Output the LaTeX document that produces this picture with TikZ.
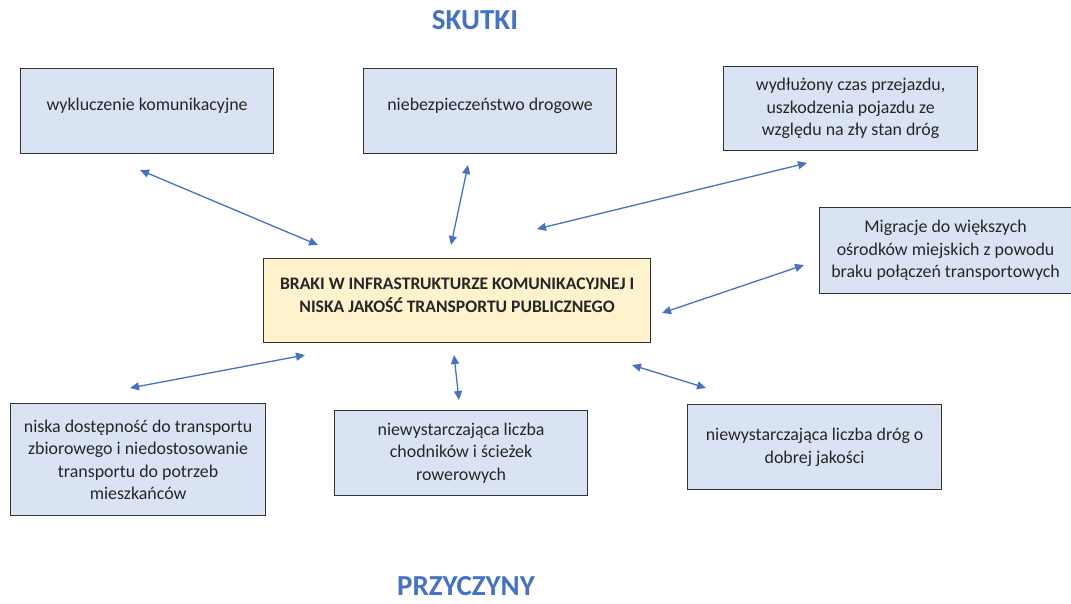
\documentclass[tikz,border=0pt]{standalone}
\usepackage{fontspec}
\setmainfont{Carlito}
\usetikzlibrary{arrows.meta}
\definecolor{hdblue}{HTML}{4472C4}
\definecolor{boxblue}{HTML}{DAE3F3}
\definecolor{boxyellow}{HTML}{FFF2CC}
\definecolor{boxline}{HTML}{333333}
\definecolor{txt}{HTML}{262626}
\tikzset{
  box/.style={draw=boxline, line width=1.2pt, fill=boxblue, anchor=north west,
    inner sep=0pt, align=center, text=txt, font=\fontsize{17.9}{22.5}\selectfont},
  mainbox/.style={box, fill=boxyellow, font=\bfseries\fontsize{17.6}{23}\selectfont},
  heading/.style={text=hdblue, font=\bfseries\fontsize{29}{34}\selectfont},
  link/.style={draw=hdblue, line width=1.3pt,
    {Triangle[width=8pt,length=9pt]}-{Triangle[width=8pt,length=9pt]}}
}
\begin{document}
\begin{tikzpicture}[x=1pt,y=-1pt]
\useasboundingbox (0,0) rectangle (1071,603);
\node[heading] (skutki) at (475,20) {SKUTKI};
\node[heading] (przyczyny) at (466,586) {PRZYCZYNY};

\node[box, minimum width=253pt, minimum height=85pt] (s1) at (20,68) {wykluczenie komunikacyjne\\[-9pt]};
\node[box, minimum width=253pt, minimum height=85pt] (s2) at (363,68) {niebezpieczeństwo drogowe\\[-9pt]};
\node[box, minimum width=254pt, minimum height=84pt] (s3) at (723,66) {wydłużony czas przejazdu,\\uszkodzenia pojazdu ze\\względu na zły stan dróg};
\node[box, minimum width=252pt, minimum height=86pt] (s4) at (819,207) {Migracje do większych\\ośrodków miejskich z powodu\\braku połączeń transportowych};

\node[mainbox, minimum width=387pt, minimum height=84pt] (c) at (263,258) {BRAKI W INFRASTRUKTURZE KOMUNIKACYJNEJ I\\NISKA JAKOŚĆ TRANSPORTU PUBLICZNEGO\\[-13pt]};

\node[box, minimum width=255pt, minimum height=112pt] (p1) at (10,403) {niska dostępność do transportu\\zbiorowego i niedostosowanie\\transportu do potrzeb\\mieszkańców};
\node[box, minimum width=253pt, minimum height=85pt] (p2) at (334,410) {niewystarczająca liczba\\chodników i ścieżek\\rowerowych};
\node[box, minimum width=254pt, minimum height=85pt] (p3) at (687,404) {niewystarczająca liczba dróg o\\dobrej jakości};

\coordinate (a1s) at (140,170); \coordinate (a1e) at (318,245);
\coordinate (a2s) at (468,165); \coordinate (a2e) at (451,245);
\coordinate (a3s) at (807,163); \coordinate (a3e) at (537,229);
\coordinate (a4s) at (804,265); \coordinate (a4e) at (662,313);
\coordinate (a5s) at (305,355); \coordinate (a5e) at (130,388);
\coordinate (a6s) at (454,355); \coordinate (a6e) at (459,400);
\coordinate (a7s) at (632,365); \coordinate (a7e) at (706,388);

\draw[link] (a1s) -- (a1e);
\draw[link] (a2s) -- (a2e);
\draw[link] (a3s) -- (a3e);
\draw[link] (a4s) -- (a4e);
\draw[link] (a5s) -- (a5e);
\draw[link] (a6s) -- (a6e);
\draw[link] (a7s) -- (a7e);
\end{tikzpicture}
\end{document}
